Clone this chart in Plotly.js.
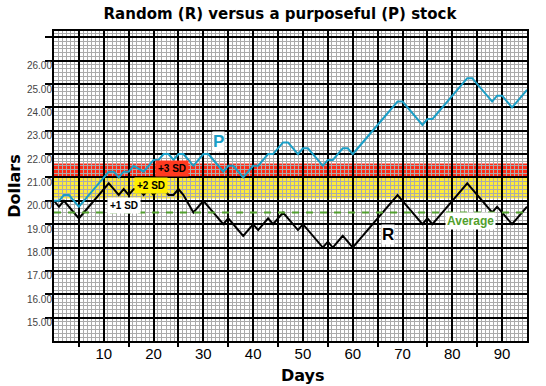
<!DOCTYPE html>
<html>
<head>
<meta charset="utf-8">
<script src="https://cdn.plot.ly/plotly-3.0.1.min.js"></script>
<style>
html,body{margin:0;padding:0;background:#fff;}
#chart{width:546px;height:386px;}
</style>
</head>
<body>
<div id="chart"></div>
<script>
// ---- data ----
const days = Array.from({length: 96}, (_, i) => i);
const randomR = [
  20.0, 19.75, 20.0, 19.75, 19.5, 19.25, 19.5, 19.75, 20.0, 20.25, 20.5,
  20.75, 20.5, 20.25, 20.5, 20.25, 20.5, 20.5, 20.25, 20.5, 20.25,
  20.5, 20.5, 20.25, 20.25, 20.5, 20.25, 19.875, 19.5, 19.75, 20.0,
  19.75, 19.5, 19.25, 19.0, 19.25, 19.0, 18.75, 18.5, 18.75, 19.0,
  18.75, 19.0, 19.25, 19.0, 19.25, 19.5, 19.25, 19.0, 18.75, 19.0,
  18.75, 18.5, 18.25, 18.0, 18.25, 18.0, 18.25, 18.5, 18.25, 18.0,
  18.25, 18.5, 18.75, 19.0, 19.25, 19.5, 19.75, 20.0, 20.25, 20.0,
  19.75, 19.5, 19.25, 19.0, 19.25, 19.0, 19.25, 19.5, 19.75, 20.0,
  20.25, 20.5, 20.75, 20.5, 20.25, 20.0, 19.75, 19.5, 19.75, 19.5,
  19.25, 19.0, 19.25, 19.5, 19.75
];
const purposefulP = [
  20.0, 20.0, 20.25, 20.25, 20.0, 19.75, 20.0, 20.25, 20.5, 20.75, 21.0,
  21.25, 21.25, 21.0, 21.25, 21.25, 21.5, 21.375, 21.25, 21.5, 21.75,
  21.75, 22.0, 22.0, 21.75, 22.0, 22.0, 21.75, 21.5, 21.75, 22.0,
  22.0, 21.75, 21.5, 21.25, 21.5, 21.5, 21.25, 21.0, 21.25, 21.5,
  21.5, 21.75, 22.0, 22.0, 22.25, 22.5, 22.5, 22.25, 22.0, 22.25,
  22.25, 22.0, 21.75, 21.5, 21.75, 21.75, 22.0, 22.25, 22.25, 22.0,
  22.25, 22.5, 22.75, 23.0, 23.25, 23.5, 23.75, 24.0, 24.25, 24.25,
  24.0, 23.75, 23.5, 23.25, 23.5, 23.5, 23.75, 24.0, 24.25, 24.5,
  24.75, 25.0, 25.25, 25.25, 25.0, 24.75, 24.5, 24.25, 24.5, 24.5,
  24.25, 24.0, 24.25, 24.5, 24.75
];
const averageValue = 19.5;
const sdBandLabels = ['+2 SD', '+3 SD'];
const sdBandLow = [20.1, 21.0];
const sdBandHigh = [21.0, 21.6];
const yTickVals = [15, 16, 17, 18, 19, 20, 21, 22, 23, 24, 25, 26, 27];
const yTickText = ['15.00', '16.00', '17.00', '18.00', '19.00', '20.00', '21.00', '22.00', '23.00', '24.00', '25.00', '26.00', ''];
const xGridVals = [5, 10, 15, 20, 25, 30, 35, 40, 45, 50, 55, 60, 65, 70, 75, 80, 85, 90];
const xTickText = ['', '10', '', '20', '', '30', '', '40', '', '50', '', '60', '', '70', '', '80', '', '90'];
const xOddTicks = [5, 15, 25, 35, 45, 55, 65, 75, 85];

// ---- styling ----
const BOLD = 'Liberation Sans, Arial, sans-serif';
const HEAVY = 'DejaVu Sans, sans-serif';
const P_COLOR = '#1a9ec6';
const GREEN = '#52a02e';
const MINOR = '#ababab';
const bandColors = ['#ffec3a', '#ff2b17'];

const traces = [
  {x: days, y: randomR, mode: 'lines', line: {color: '#000', width: 2}, hoverinfo: 'skip', showlegend: false},
  {x: days, y: purposefulP, mode: 'lines', line: {color: P_COLOR, width: 2}, hoverinfo: 'skip', showlegend: false},
  {x: [], y: [], xaxis: 'x2', mode: 'lines', showlegend: false, hoverinfo: 'skip'}
];

const shapes = sdBandLow.map((lo, i) => ({
  type: 'rect', xref: 'x', yref: 'y', x0: 0, x1: 95, y0: lo, y1: sdBandHigh[i],
  fillcolor: bandColors[i], line: {width: 0}, layer: 'below'
}));
shapes.push({
  type: 'line', xref: 'x', yref: 'y', x0: 0, x1: 95, y0: averageValue, y1: averageValue,
  line: {color: GREEN, width: 2, dash: '7px,7px'}, layer: 'above'
});

const annotations = [
  {x: 14.1, y: 19.8, text: '<b>+1 SD</b>', showarrow: false, font: {family: BOLD, size: 10, color: '#000'}, bgcolor: '#ffffff', borderpad: 2},
  {x: 19.5, y: 20.67, text: '<b>' + sdBandLabels[0] + '</b>', showarrow: false, font: {family: BOLD, size: 10, color: '#000'}, bgcolor: '#ffee00', borderpad: 2},
  {x: 23.7, y: 21.38, text: '<b>' + sdBandLabels[1] + '</b>', showarrow: false, font: {family: BOLD, size: 10, color: '#000'}, bgcolor: '#ff3a20', borderpad: 2},
  {x: 33.1, y: 22.52, text: '<b>P</b>', showarrow: false, font: {family: BOLD, size: 17, color: P_COLOR}, bgcolor: '#ffffff', borderpad: 0},
  {x: 67.1, y: 18.58, text: '<b>R</b>', showarrow: false, font: {family: BOLD, size: 17, color: '#000'}, bgcolor: '#ffffff', borderpad: 0},
  {x: 83.6, y: 19.15, text: '<b>Average</b>', showarrow: false, font: {family: BOLD, size: 12, color: GREEN}, bgcolor: '#ffffff', borderpad: 1},
  {xref: 'paper', yref: 'paper', x: (303 - 54) / 473, y: -(376 - 341) / 310, yanchor: 'middle', text: '<b>Days</b>', showarrow: false, font: {family: HEAVY, size: 16, color: '#000'}}
];

const layout = {
  width: 546, height: 386,
  margin: {l: 54, r: 19, t: 31, b: 45, pad: 0},
  paper_bgcolor: '#ffffff', plot_bgcolor: '#ffffff',
  title: {text: '<b>Random (R) versus a purposeful (P) stock</b>', x: 280 / 546, xanchor: 'center', y: 1 - 14 / 386, yanchor: 'middle', font: {family: HEAVY, size: 15, color: '#000'}},
  showlegend: false,
  xaxis: {
    range: [0, 95], tickmode: 'array', tickvals: xGridVals, ticktext: xTickText, ticks: '',
    ticklabelstandoff: -2,
    showgrid: true, gridcolor: '#000', gridwidth: 2, zeroline: false,
    showline: true, linecolor: '#000', linewidth: 2, mirror: true,
    tickfont: {family: BOLD, size: 15, color: '#000'}, tickangle: 0,
    minor: {dtick: 5 / 6, tick0: 0, showgrid: true, gridcolor: MINOR, gridwidth: 1, ticks: ''}
  },
  xaxis2: {
    range: [0, 95], overlaying: 'x', anchor: 'y', side: 'bottom', tickmode: 'array', tickvals: xOddTicks,
    ticks: 'outside', ticklen: 5, tickwidth: 2, tickcolor: '#000', showticklabels: false,
    showgrid: false, zeroline: false, showline: false
  },
  yaxis: {
    range: [14, 27.27], tickmode: 'array', tickvals: yTickVals, ticktext: yTickText,
    ticks: 'outside', ticklen: 7, tickwidth: 2, tickcolor: '#000',
    ticklabelstandoff: -9, ticklabelshift: 5,
    showgrid: true, gridcolor: '#000', gridwidth: 2, zeroline: false,
    showline: true, linecolor: '#000', linewidth: 2, mirror: true,
    tickfont: {family: BOLD, size: 10, color: '#444'},
    title: {text: '<b>Dollars</b>', font: {family: HEAVY, size: 16, color: '#000'}, standoff: 2},
    minor: {dtick: 1 / 6, tick0: 14, showgrid: true, gridcolor: MINOR, gridwidth: 1, ticks: ''}
  },
  shapes: shapes,
  annotations: annotations
};

Plotly.newPlot('chart', traces, layout, {staticPlot: true, displayModeBar: false});
</script>
</body>
</html>
